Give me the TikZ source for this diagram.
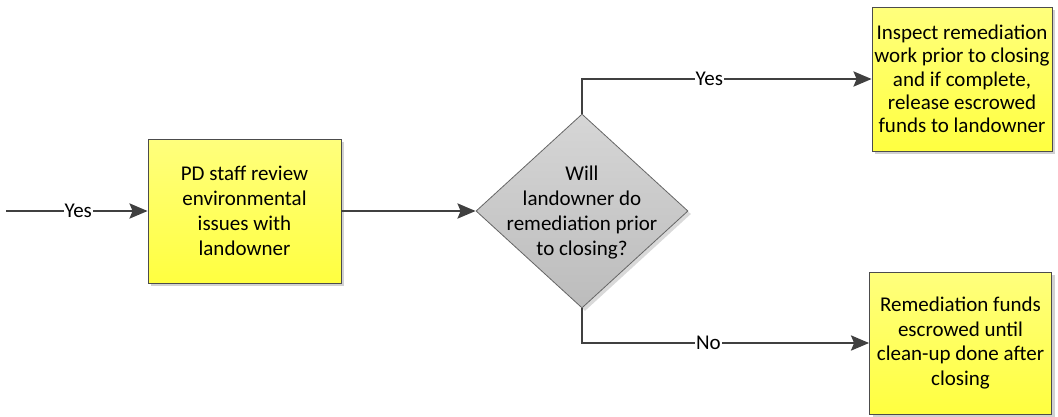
\documentclass[tikz,border=0pt]{standalone}
\usepackage{fontspec}
\setmainfont{Carlito}
\usetikzlibrary{shapes.geometric,arrows.meta,shadows}
\definecolor{linegray}{RGB}{64,64,64}
\definecolor{boxtop}{RGB}{255,255,125}
\definecolor{boxbot}{RGB}{255,255,64}
\definecolor{dtop}{RGB}{214,214,214}
\definecolor{dbot}{RGB}{188,188,188}
\tikzset{
  procbox/.style={rectangle, draw=black!70, line width=0.8pt,
    top color=boxtop, bottom color=boxbot,
    drop shadow={shadow xshift=3pt, shadow yshift=-3pt, fill=black!18, opacity=1},
    align=center, inner sep=0pt,
    font=\fontsize{21}{25}\selectfont},
  decbox/.style={diamond, draw=black!60, line width=0.8pt, aspect=1,
    top color=dtop, bottom color=dbot, inner sep=0pt,
    drop shadow={shadow xshift=3pt, shadow yshift=-3pt, fill=black!15, opacity=1}},
  txt/.style={align=center, inner sep=0pt, font=\fontsize{21}{25}\selectfont},
  conn/.style={draw=linegray, line width=2.8pt,
    -{Stealth[length=18pt,width=15pt,inset=3pt]}},
  lbl/.style={fill=white, inner sep=1pt, text=black, font=\fontsize{21}{22}\selectfont}
}
\begin{document}
\begin{tikzpicture}[x=1pt,y=-1pt]
\useasboundingbox (0,0) rectangle (1058,416);

% process boxes
\node[procbox, minimum width=193pt, minimum height=144pt] (review) at (244.5,211)
  {PD staff review\\environmental\\issues with\\landowner};
\node[procbox, minimum width=180pt, minimum height=144pt,
  font=\fontsize{21}{23.3}\selectfont] (inspect) at (962,79)
  {Inspect remediation\\work prior to closing\\and if complete,\\release escrowed\\funds to landowner};
\node[procbox, minimum width=182pt, minimum height=142pt,
  font=\fontsize{21}{24.5}\selectfont] (escrow) at (960.5,343)
  {Remediation funds\\escrowed until\\clean-up done after\\closing};

% decision
\node[decbox, minimum width=212pt, minimum height=194pt] (ask) at (582,211) {};
\node[txt] (asktxt) at (582,213) {Will\\landowner do\\remediation prior\\to closing?};

% connectors
\coordinate (entry) at (6,211);
\draw[conn] (entry) -- node[lbl, pos=0.51]{Yes} (review.west);
\draw[conn] (review.east) -- (ask.west);
\draw[conn] (ask.north) |- node[lbl, pos=0.72]{Yes} (inspect.west);
\draw[conn] (ask.south) |- node[lbl, pos=0.72]{No} (escrow.west);
\end{tikzpicture}
\end{document}
